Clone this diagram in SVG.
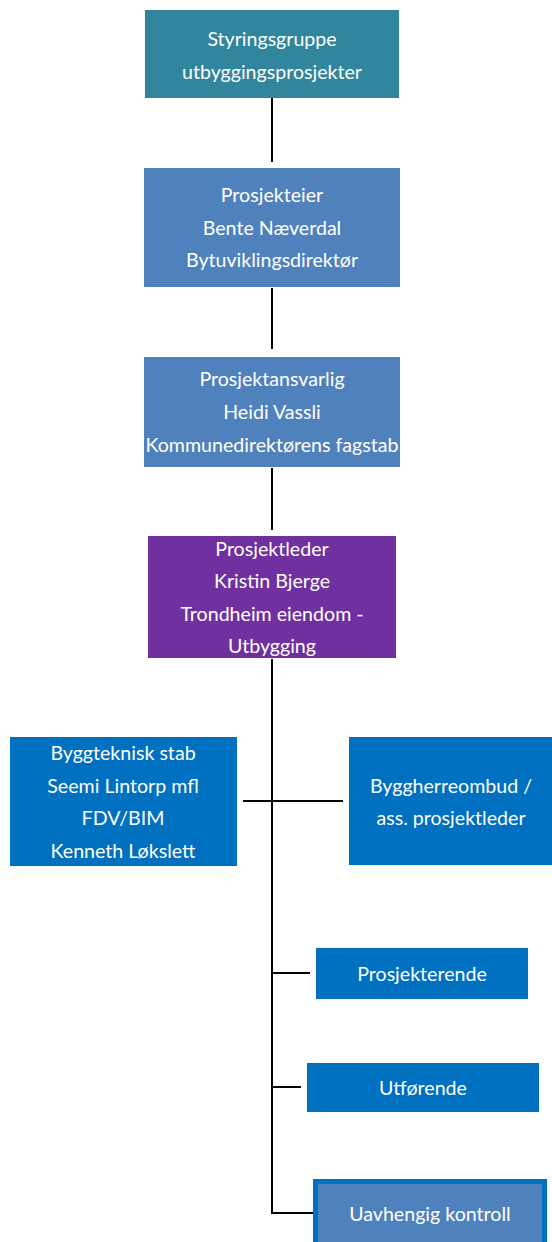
<svg xmlns="http://www.w3.org/2000/svg" width="552" height="1242" viewBox="0 0 552 1242">
<style>
text{font-family:Lato,"Open Sans","Liberation Sans",sans-serif;font-size:19.6px;fill:#fff;text-anchor:middle;dominant-baseline:central}
.c{stroke:#000;stroke-width:2;fill:none}
</style>
<rect width="552" height="1242" fill="#fff"/>
<g id="connectors">
<line class="c" x1="272" y1="98" x2="272" y2="162"/>
<line class="c" x1="272" y1="288" x2="272" y2="349"/>
<line class="c" x1="272" y1="468" x2="272" y2="530"/>
<line class="c" x1="272" y1="659" x2="272" y2="1214"/>
<line class="c" x1="243" y1="801" x2="343" y2="801"/>
<line class="c" x1="272" y1="973" x2="310" y2="973"/>
<line class="c" x1="272" y1="1087" x2="301" y2="1087"/>
<line class="c" x1="272" y1="1213" x2="313" y2="1213"/>
</g>
<g id="styringsgruppe">
<rect x="145" y="10" width="254" height="88" fill="#31859C"/>
<text x="272" y="38">Styringsgruppe</text>
<text x="272" y="71">utbyggingsprosjekter</text>
</g>
<g id="prosjekteier">
<rect x="144" y="168" width="256" height="119" fill="#4F81BD"/>
<text x="272" y="194">Prosjekteier</text>
<text x="272" y="227">Bente Næverdal</text>
<text x="272" y="259">Bytuviklingsdirektør</text>
</g>
<g id="prosjektansvarlig">
<rect x="144" y="357" width="256" height="110" fill="#4F81BD"/>
<text x="272" y="378">Prosjektansvarlig</text>
<text x="272" y="411">Heidi Vassli</text>
<text x="272" y="444">Kommunedirektørens fagstab</text>
</g>
<g id="prosjektleder">
<rect x="148" y="536" width="248" height="122" fill="#7030A0"/>
<text x="272" y="548">Prosjektleder</text>
<text x="272" y="580">Kristin Bjerge</text>
<text x="272" y="613">Trondheim eiendom -</text>
<text x="272" y="645">Utbygging</text>
</g>
<g id="byggteknisk">
<rect x="10" y="737" width="227" height="129" fill="#0070C0"/>
<text x="123" y="752">Byggteknisk stab</text>
<text x="123" y="785">Seemi Lintorp mfl</text>
<text x="123" y="817">FDV/BIM</text>
<text x="123" y="850">Kenneth Løkslett</text>
</g>
<g id="byggherreombud">
<rect x="349" y="737" width="203" height="128" fill="#0070C0"/>
<text x="451" y="785">Byggherreombud /</text>
<text x="451" y="817">ass. prosjektleder</text>
</g>
<g id="prosjekterende">
<rect x="316" y="948" width="212" height="51" fill="#0070C0"/>
<text x="422" y="973">Prosjekterende</text>
</g>
<g id="utforende">
<rect x="307" y="1063" width="232" height="49" fill="#0070C0"/>
<text x="423" y="1087">Utførende</text>
</g>
<g id="uavhengig">
<rect x="315.5" y="1181.5" width="229" height="63" fill="#4F81BD" stroke="#0070C0" stroke-width="5"/>
<text x="430" y="1213">Uavhengig kontroll</text>
</g>
</svg>
